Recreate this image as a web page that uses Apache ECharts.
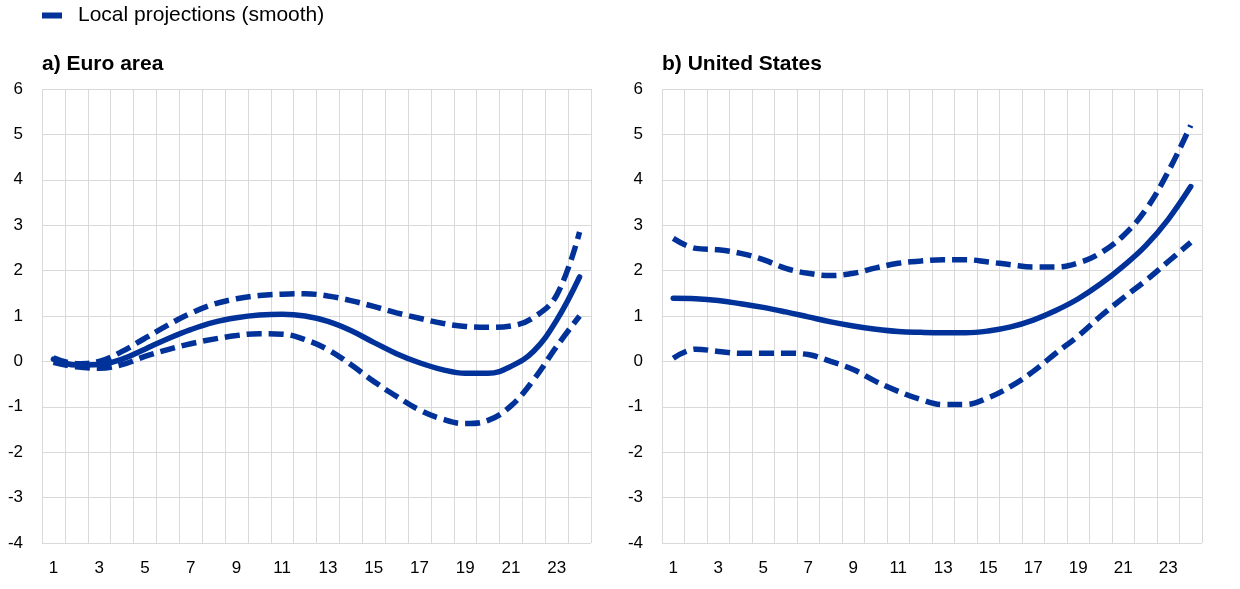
<!DOCTYPE html>
<html>
<head>
<meta charset="utf-8">
<script src="https://cdn.jsdelivr.net/npm/echarts@6/dist/echarts.min.js"></script>
<style>
  html, body { margin: 0; padding: 0; background: #ffffff; }
  #chart { width: 1240px; height: 589px; }
</style>
</head>
<body>
<div id="chart"></div>
<script>
var categories = ['1','2','3','4','5','6','7','8','9','10','11','12','13','14','15','16','17','18','19','20','21','22','23','24'];
var yTicks = [-4, -3, -2, -1, 0, 1, 2, 3, 4, 5, 6];
var legendName = 'Local projections (smooth)';
var panelTitles = ['a) Euro area', 'b) United States'];

var euroMid   = [0.05, -0.08, -0.07, 0.05, 0.27, 0.50, 0.70, 0.86, 0.96, 1.02, 1.04, 1.00, 0.88, 0.68, 0.42, 0.17, -0.03, -0.18, -0.26, -0.26, -0.11, 0.23, 0.91, 1.86];
var euroUpper = [0.08, -0.05, 0.00, 0.22, 0.51, 0.80, 1.06, 1.26, 1.38, 1.45, 1.48, 1.49, 1.44, 1.34, 1.21, 1.07, 0.95, 0.84, 0.77, 0.75, 0.78, 0.97, 1.46, 2.85];
var euroLower = [-0.02, -0.12, -0.15, -0.07, 0.11, 0.26, 0.39, 0.49, 0.57, 0.61, 0.60, 0.48, 0.26, -0.07, -0.44, -0.77, -1.07, -1.27, -1.37, -1.30, -0.98, -0.40, 0.33, 1.00];

var usMid   = [1.39, 1.38, 1.34, 1.27, 1.19, 1.09, 0.98, 0.87, 0.78, 0.71, 0.66, 0.64, 0.63, 0.63, 0.67, 0.76, 0.91, 1.12, 1.38, 1.71, 2.10, 2.55, 3.13, 3.85];
var usUpper = [2.71, 2.49, 2.46, 2.38, 2.24, 2.05, 1.94, 1.89, 1.94, 2.06, 2.16, 2.21, 2.24, 2.24, 2.19, 2.13, 2.08, 2.08, 2.17, 2.39, 2.77, 3.34, 4.18, 5.20];
var usLower = [0.07, 0.27, 0.22, 0.18, 0.18, 0.18, 0.15, 0.00, -0.18, -0.44, -0.66, -0.84, -0.95, -0.95, -0.80, -0.55, -0.22, 0.18, 0.56, 1.00, 1.40, 1.78, 2.20, 2.62];

var BLUE = '#003299';
var GRIDC = '#d9d9d9';
var FONT = 'Liberation Sans, Arial, sans-serif';

function xAxisFor(idx) {
  return {
    type: 'category', gridIndex: idx, data: categories, boundaryGap: true,
    axisLine: { show: true, lineStyle: { color: GRIDC, width: 1 } },
    axisTick: { show: false },
    axisLabel: { interval: 1, color: '#000', fontSize: 17, fontFamily: FONT, margin: 17 },
    splitLine: { show: true, interval: 0, lineStyle: { color: GRIDC, width: 1 } }
  };
}
function yAxisFor(idx) {
  return {
    type: 'value', gridIndex: idx, min: yTicks[0], max: yTicks[yTicks.length - 1], interval: 1,
    axisLine: { show: false }, axisTick: { show: false },
    axisLabel: { color: '#000', fontSize: 17, fontFamily: FONT, margin: 19 },
    splitLine: { show: true, lineStyle: { color: GRIDC, width: 1 } }
  };
}
function solid(name, data, idx) {
  return { name: name, type: 'line', xAxisIndex: idx, yAxisIndex: idx, data: data,
    smooth: 0.4, symbol: 'none', color: BLUE,
    lineStyle: { color: BLUE, width: 5.5, type: 'solid', cap: 'round' } };
}
function dashed(name, data, idx) {
  return { name: name, type: 'line', xAxisIndex: idx, yAxisIndex: idx, data: data,
    smooth: 0.4, symbol: 'none', color: BLUE,
    lineStyle: { color: BLUE, width: 5.5, type: [15, 7], cap: 'butt' } };
}

var chart = echarts.init(document.getElementById('chart'), null, { renderer: 'canvas' });
chart.setOption({
  animation: false,
  backgroundColor: '#ffffff',
  title: [
    { text: panelTitles[0], left: 42, top: 54, padding: 0,
      textStyle: { fontSize: 21, fontWeight: 'bold', color: '#000', fontFamily: FONT } },
    { text: panelTitles[1], left: 662, top: 54, padding: 0,
      textStyle: { fontSize: 21, fontWeight: 'bold', color: '#000', fontFamily: FONT } }
  ],
  legend: {
    data: [legendName], left: 42, top: 5, padding: 0,
    icon: 'rect', itemWidth: 20, itemHeight: 6,
    textStyle: { fontSize: 21, color: '#000', fontFamily: FONT, padding: [0, 0, 0, 11] }
  },
  grid: [
    { left: 42, top: 89, width: 549, height: 454 },
    { left: 662, top: 89, width: 540, height: 454 }
  ],
  xAxis: [xAxisFor(0), xAxisFor(1)],
  yAxis: [yAxisFor(0), yAxisFor(1)],
  series: [
    dashed('EA upper', euroUpper, 0),
    dashed('EA lower', euroLower, 0),
    solid(legendName, euroMid, 0),
    dashed('US upper', usUpper, 1),
    dashed('US lower', usLower, 1),
    solid(legendName, usMid, 1)
  ]
});
</script>
</body>
</html>
